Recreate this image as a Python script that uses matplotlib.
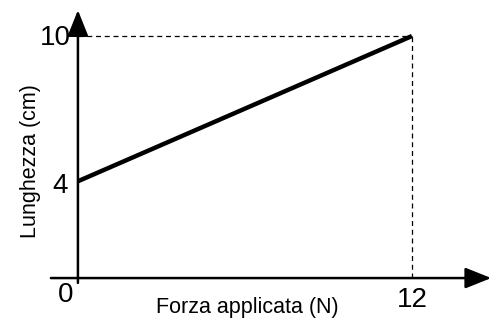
import matplotlib
matplotlib.use("Agg")
import matplotlib.pyplot as plt

plt.rcParams['font.family'] = ['Liberation Sans', 'DejaVu Sans']

# data
forza = [0, 12]
lunghezza = [4, 10]
x_ticks = [0, 12]
y_ticks = [4, 10]
x_label = 'Forza applicata (N)'
y_label = 'Lunghezza (cm)'

fig = plt.figure(figsize=(4.99, 3.25), dpi=100)
ax = fig.add_axes([0, 0, 1, 1])
ax.set_xlim(-2.80, 15.13)
ax.set_ylim(-1.94, 11.49)
ax.axis('off')

# axes with arrows
arrow = dict(arrowstyle='-|>,head_length=0.8,head_width=0.32', lw=1.8,
             color='black', shrinkA=0, shrinkB=0, mutation_scale=20)
ax.annotate('', xy=(14.85, 0), xytext=(-0.97, 0), arrowprops=arrow)
ax.annotate('', xy=(0, 11.07), xytext=(0, -0.2), arrowprops=arrow)

# dashed guides
ax.plot([0, forza[1]], [lunghezza[1], lunghezza[1]], ls=(0, (4, 3)), lw=0.9, color='black')
ax.plot([forza[1], forza[1]], [0, lunghezza[1]], ls=(0, (4, 3)), lw=0.9, color='black')

# main line
ax.plot(forza, lunghezza, color='black', lw=3.2, solid_capstyle='butt')

# tick labels
ax.text(-0.15, -0.68, str(x_ticks[0]), fontsize=20, ha='right', va='center')
ax.text(x_ticks[1], -0.92, str(x_ticks[1]), fontsize=20, ha='center', va='center')
ax.text(-0.36, y_ticks[0] - 0.18, str(y_ticks[0]), fontsize=20, ha='right', va='center')
ax.text(-0.25, y_ticks[1] - 0.06, str(y_ticks[1]), fontsize=20, ha='right', va='center')

# axis labels
ax.text(6.07, -1.2, x_label, fontsize=15.5, ha='center', va='center')
ax.text(-1.72, 4.83, y_label, fontsize=15.5, ha='center', va='center', rotation=90)

fig.savefig('out.png', dpi=100)
